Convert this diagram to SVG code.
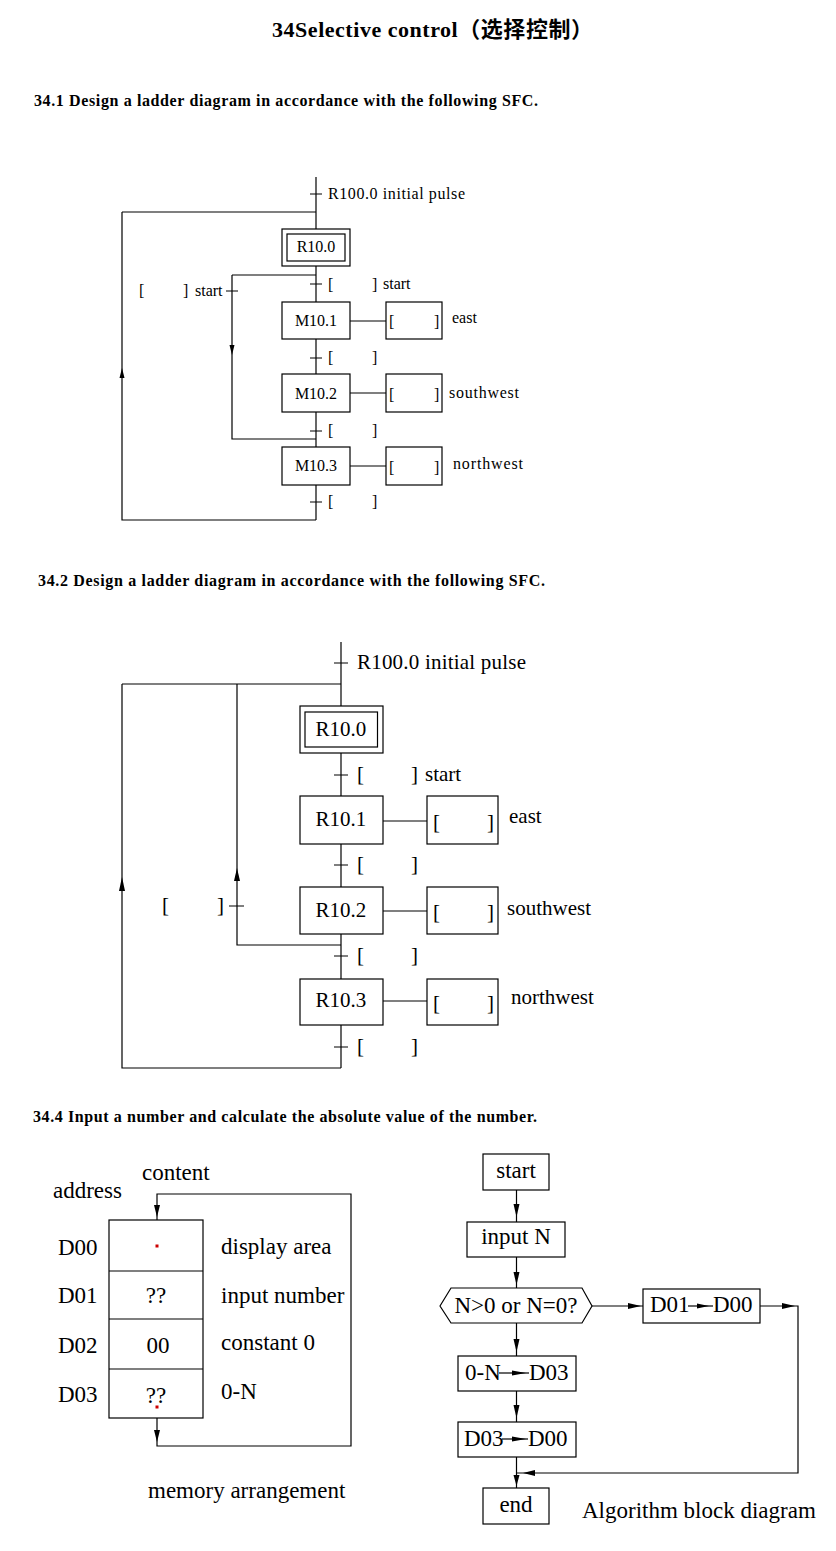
<svg xmlns="http://www.w3.org/2000/svg" width="836" height="1551" viewBox="0 0 836 1551">
<style>
.ln{stroke:#000;stroke-width:1.2;fill:none}
.bx{fill:#fff;stroke:#000;stroke-width:1.2}
.ah{fill:#000;stroke:none}
.t{font-family:"Liberation Serif","Times New Roman","Noto Sans CJK SC",serif;fill:#000}
.s1{font-size:16px}
.s2{font-size:21px}
.s3{font-size:23px}
.h{font-size:16px;font-weight:bold}
.c{text-anchor:middle}
</style>
<rect x="0" y="0" width="836" height="1551" fill="#fff"/>

<g id="titles">
<text class="t" x="272" y="37" style="font-size:22px;font-weight:bold" textLength="321">34Selective control（选择控制）</text>
<text class="t h" x="34" y="106" textLength="504">34.1 Design a ladder diagram in accordance with the following SFC.</text>
<text class="t h" x="38" y="586" textLength="507">34.2 Design a ladder diagram in accordance with the following SFC.</text>
<text class="t h" x="33" y="1122" textLength="504">34.4 Input a number and calculate the absolute value of the number.</text>
</g>

<g id="connectors">
<!-- section 34.1 -->
<path class="ln" d="M316 177 V520"/>
<path class="ln" d="M122 212 H316 M122 212 V520 H316"/>
<path class="ln" d="M232 275 H316 M232 275 V439 H316"/>
<path class="ln" d="M310 194 H322 M310 284 H322 M310 358 H322 M310 431 H322 M310 502 H322 M226 291 H238"/>
<path class="ln" d="M350 321 H386 M350 393 H386 M350 466 H386"/>
<polygon class="ah" points="122,368 119.5,378 124.5,378"/>
<polygon class="ah" points="232,355 229.5,345 234.5,345"/>
<!-- section 34.2 -->
<path class="ln" d="M341 642 V1068"/>
<path class="ln" d="M122 684 H341 M122 684 V1068 H341"/>
<path class="ln" d="M237 684 V945 H341"/>
<path class="ln" d="M334 663 H348 M334 775 H348 M334 865 H348 M334 956 H348 M334 1047 H348 M229 906 H244"/>
<path class="ln" d="M383 821 H427 M383 911 H427 M383 1001 H427"/>
<polygon class="ah" points="122,877 119,891 125,891"/>
<polygon class="ah" points="237,868 234,881 240,881"/>
<!-- section 34.4 memory -->
<path class="ln" d="M157 1246 V1194 H351 V1446 H157 V1407"/>
<polygon class="ah" points="157,1217 154,1205 160,1205"/>
<polygon class="ah" points="157,1442 154,1430 160,1430"/>
<!-- section 34.4 flowchart -->
<path class="ln" d="M516.5 1190 V1222 M516.5 1257 V1288 M592 1306 H643 M760 1306 H798 V1473 H516.5 M516.5 1323 V1356 M516.5 1391 V1422 M516.5 1457 V1488"/>
<polygon class="ah" points="516.5,1217 513.5,1204 519.5,1204"/>
<polygon class="ah" points="516.5,1285 513.5,1272 519.5,1272"/>
<polygon class="ah" points="641,1306 628,1303 628,1309"/>
<polygon class="ah" points="795,1306 782,1303 782,1309"/>
<polygon class="ah" points="516.5,1352 513.5,1339 519.5,1339"/>
<polygon class="ah" points="516.5,1418 513.5,1405 519.5,1405"/>
<polygon class="ah" points="523,1473 535,1470 535,1476"/>
<polygon class="ah" points="516.5,1486 513.5,1475 519.5,1475"/>
</g>

<!-- Section 34.1 labels -->
<g id="s1-labels">
<text class="t s1" x="328" y="199" textLength="137">R100.0 initial pulse</text>
<text class="t s1" x="139" y="296">[</text>
<text class="t s1" x="183" y="296">]</text>
<text class="t s1" x="195" y="296">start</text>
<text class="t s1" x="328" y="290">[</text>
<text class="t s1" x="372" y="290">]</text>
<text class="t s1" x="383" y="289">start</text>
<text class="t s1" x="328" y="363">[</text>
<text class="t s1" x="372" y="363">]</text>
<text class="t s1" x="328" y="436">[</text>
<text class="t s1" x="372" y="436">]</text>
<text class="t s1" x="328" y="507">[</text>
<text class="t s1" x="372" y="507">]</text>
</g>
<g id="s1-R10.0">
<rect class="bx" x="282" y="229" width="68" height="37"/>
<rect class="bx" x="287" y="234" width="58" height="27"/>
<text class="t s1 c" x="316" y="252">R10.0</text>
</g>
<g id="s1-M10.1">
<rect class="bx" x="282" y="302" width="68" height="37"/>
<text class="t s1 c" x="316" y="326">M10.1</text>
</g>
<g id="s1-act1">
<rect class="bx" x="386" y="302" width="56" height="37"/>
<text class="t s1" x="389" y="327">[</text>
<text class="t s1" x="434" y="327">]</text>
<text class="t s1" x="452" y="323">east</text>
</g>
<g id="s1-M10.2">
<rect class="bx" x="282" y="374" width="68" height="38"/>
<text class="t s1 c" x="316" y="399">M10.2</text>
</g>
<g id="s1-act2">
<rect class="bx" x="386" y="374" width="56" height="38"/>
<text class="t s1" x="389" y="400">[</text>
<text class="t s1" x="434" y="400">]</text>
<text class="t s1" x="449" y="398" textLength="70">southwest</text>
</g>
<g id="s1-M10.3">
<rect class="bx" x="282" y="447" width="68" height="38"/>
<text class="t s1 c" x="316" y="471">M10.3</text>
</g>
<g id="s1-act3">
<rect class="bx" x="386" y="447" width="56" height="38"/>
<text class="t s1" x="389" y="473">[</text>
<text class="t s1" x="434" y="473">]</text>
<text class="t s1" x="453" y="469" textLength="70">northwest</text>
</g>

<!-- Section 34.2 -->
<g id="s2-labels">
<text class="t s2" x="357" y="669" textLength="169">R100.0 initial pulse</text>
<text class="t s2" x="357" y="781">[</text>
<text class="t s2" x="411" y="781">]</text>
<text class="t s2" x="425" y="781">start</text>
<text class="t s2" x="357" y="871">[</text>
<text class="t s2" x="411" y="871">]</text>
<text class="t s2" x="162" y="912">[</text>
<text class="t s2" x="217" y="912">]</text>
<text class="t s2" x="357" y="962">[</text>
<text class="t s2" x="411" y="962">]</text>
<text class="t s2" x="357" y="1053">[</text>
<text class="t s2" x="411" y="1053">]</text>
</g>
<g id="s2-R10.0">
<rect class="bx" x="300" y="706" width="83" height="47"/>
<rect class="bx" x="305" y="712" width="72.5" height="35"/>
<text class="t s2 c" x="341" y="736">R10.0</text>
</g>
<g id="s2-R10.1">
<rect class="bx" x="300" y="796" width="83" height="48"/>
<text class="t s2 c" x="341" y="826">R10.1</text>
</g>
<g id="s2-act1">
<rect class="bx" x="427" y="796" width="71" height="48"/>
<text class="t s2" x="433" y="829">[</text>
<text class="t s2" x="487" y="829">]</text>
<text class="t s2" x="509" y="823">east</text>
</g>
<g id="s2-R10.2">
<rect class="bx" x="300" y="887" width="83" height="47"/>
<text class="t s2 c" x="341" y="917">R10.2</text>
</g>
<g id="s2-act2">
<rect class="bx" x="427" y="887" width="71" height="47"/>
<text class="t s2" x="433" y="919">[</text>
<text class="t s2" x="487" y="919">]</text>
<text class="t s2" x="507" y="915">southwest</text>
</g>
<g id="s2-R10.3">
<rect class="bx" x="300" y="979" width="83" height="46"/>
<text class="t s2 c" x="341" y="1007">R10.3</text>
</g>
<g id="s2-act3">
<rect class="bx" x="427" y="979" width="71" height="46"/>
<text class="t s2" x="433" y="1010">[</text>
<text class="t s2" x="487" y="1010">]</text>
<text class="t s2" x="511" y="1004">northwest</text>
</g>

<!-- Section 34.4 memory -->
<g id="memory">
<rect class="bx" x="109" y="1220" width="94" height="198" fill="none"/>
<path class="ln" d="M109 1271 H203 M109 1319 H203 M109 1369 H203"/>
<rect x="155.5" y="1244.5" width="3" height="3" fill="#c00"/>
<rect x="155.5" y="1405.5" width="3" height="3" fill="#c00"/>
<text class="t s3" x="142" y="1180">content</text>
<text class="t s3" x="53" y="1198">address</text>
<text class="t s3" x="58" y="1255">D00</text>
<text class="t s3" x="58" y="1303">D01</text>
<text class="t s3" x="58" y="1353">D02</text>
<text class="t s3" x="58" y="1402">D03</text>
<text class="t s3 c" x="156" y="1303">??</text>
<text class="t s3 c" x="158" y="1353">00</text>
<text class="t s3 c" x="156" y="1403">??</text>
<text class="t s3" x="221" y="1254">display area</text>
<text class="t s3" x="221" y="1303">input number</text>
<text class="t s3" x="221" y="1350">constant 0</text>
<text class="t s3" x="221" y="1399">0-N</text>
<text class="t s3" x="148" y="1498">memory arrangement</text>
</g>

<!-- Section 34.4 flowchart -->
<g id="fc-start">
<rect class="bx" x="483" y="1154" width="66" height="36"/>
<text class="t s3 c" x="516" y="1178">start</text>
</g>
<g id="fc-input">
<rect class="bx" x="467" y="1222" width="98" height="35"/>
<text class="t s3 c" x="516" y="1244">input N</text>
</g>
<g id="fc-decision">
<polygon class="bx" points="440,1306 451,1288 582,1288 592,1306 582,1323 451,1323"/>
<text class="t s3 c" x="516" y="1313">N&gt;0 or N=0?</text>
</g>
<g id="fc-d01">
<rect class="bx" x="643" y="1289" width="117" height="34"/>
<text class="t s3" x="650" y="1312">D01</text>
<path class="ln" d="M688 1306 H713"/>
<polygon class="ah" points="709,1306 697,1303.5 697,1308.5"/>
<text class="t s3" x="713" y="1312">D00</text>
</g>
<g id="fc-neg">
<rect class="bx" x="458" y="1356" width="118" height="35"/>
<text class="t s3" x="465" y="1380">0-N</text>
<path class="ln" d="M499 1373 H529"/>
<polygon class="ah" points="526,1373 512,1370.5 512,1375.5"/>
<text class="t s3" x="529" y="1380">D03</text>
</g>
<g id="fc-d03">
<rect class="bx" x="458" y="1422" width="118" height="35"/>
<text class="t s3" x="464" y="1446">D03</text>
<path class="ln" d="M502 1439 H528"/>
<polygon class="ah" points="526,1439 512,1436.5 512,1441.5"/>
<text class="t s3" x="528" y="1446">D00</text>
</g>
<g id="fc-end">
<rect class="bx" x="483" y="1488" width="66" height="36"/>
<text class="t s3 c" x="516" y="1512">end</text>
</g>
<g id="fc-caption">
<text class="t s3" x="582" y="1518">Algorithm block diagram</text>
</g>
</svg>
